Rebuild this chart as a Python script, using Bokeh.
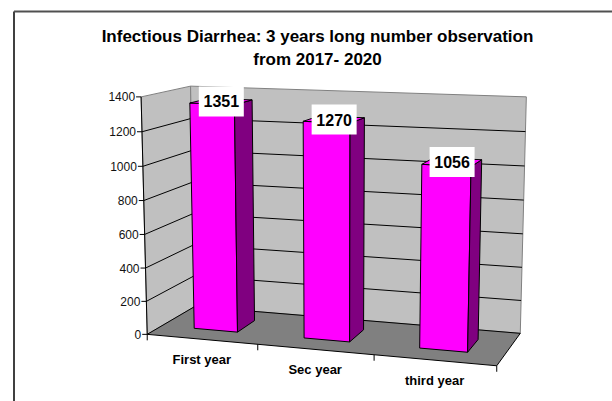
import numpy as np
from bokeh.plotting import figure
from bokeh.models import Range1d
from bokeh.core.properties import value
from bokeh.embed import file_html
from bokeh.resources import INLINE

# ---- data ----
categories = ["First year", "Sec year", "third year"]
cases = [1351, 1270, 1056]
y_ticks = [0, 200, 400, 600, 800, 1000, 1200, 1400]
y_max = 1400
title_lines = ["Infectious Diarrhea: 3 years long number observation", "from 2017- 2020"]

# ---- 3D projection calibration (layout of the chart box) ----
calib_world = [(0, 0, 0), (0, 1400, 0), (0, 0, 1), (0, 1400, 1), (3, 0, 1), (3, 1400, 1),
               (3, 0, 0), (1, 0, 0), (2, 0, 0),
               (0, 200, 0), (0, 400, 0), (0, 600, 0), (0, 800, 0), (0, 1000, 0), (0, 1200, 0)]
calib_screen = [(147, 334), (140.5, 96), (194, 306), (190, 86), (520, 332.3), (526, 96.5),
                (496, 365), (257.3, 344.3), (373.3, 355),
                (146.1, 300.7), (145.1, 267.7), (144.2, 233.3), (143.3, 199.3), (142.4, 166), (141.4, 131.7)]

ncat = len(categories)
Wn = np.array(calib_world, float) / np.array([ncat, y_max, 1.0])
Sn = (np.array(calib_screen, float) - [306.0, 200.0]) / 200.0
rows = []
for (x, y, z), (u, v) in zip(Wn, Sn):
    X = [x, y, z, 1.0]
    rows.append(X + [0, 0, 0, 0] + [-u * c for c in X])
    rows.append([0, 0, 0, 0] + X + [-v * c for c in X])
_, _, Vt = np.linalg.svd(np.array(rows))
P = Vt[-1].reshape(3, 4)


def proj(c, v, d):
    a, b, w = P @ np.array([c / ncat, v / y_max, d, 1.0])
    return float(a / w * 200 + 306), float(b / w * 200 + 200)


def poly(pts):
    q = [proj(*t) for t in pts]
    return [t[0] for t in q], [t[1] for t in q]


p = figure(width=612, height=401, x_range=Range1d(0, 612), y_range=Range1d(401, 0),
           min_border=0, toolbar_location=None, output_backend="svg")
p.axis.visible = False
p.grid.visible = False
p.outline_line_color = None
p.background_fill_color = "white"

FONT = value("Liberation Sans")

# outer frame
p.line([13.5, 13.5], [401, 11], line_color="black", line_width=1.5)
p.line([13.5, 612], [11, 11], line_color="#505050", line_width=1.8)

# title
p.text([317, 317], [35.5, 58.5], text=title_lines, text_font=FONT, text_font_style="bold",
       text_font_size="17px", text_align="center", text_baseline="middle", text_color="black")

# walls
wx, wy = poly([(0, 0, 0), (0, y_max, 0), (0, y_max, 1), (0, 0, 1)])
p.patch(wx, wy, fill_color="#C0C0C0", line_color="#808080", line_width=1)
bx, by = poly([(0, 0, 1), (0, y_max, 1), (ncat, y_max, 1), (ncat, 0, 1)])
p.patch(bx, by, fill_color="#C0C0C0", line_color="#808080", line_width=1)

# gridlines
gxs, gys = [], []
for t in y_ticks[1:-1]:
    xs, ys = poly([(0, t, 0), (0, t, 1), (ncat, t, 1)])
    gxs.append(xs)
    gys.append(ys)
p.multi_line(gxs, gys, line_color="black", line_width=1)

# floor
fx, fy = poly([(0, 0, 0), (ncat, 0, 0), (ncat, 0, 1), (0, 0, 1)])
p.patch(fx, fy, fill_color="#808080", line_color="black", line_width=1)

# value axis line, ticks, labels
ax, ay = poly([(0, 0, 0), (0, y_max, 0)])
p.line(ax, ay, line_color="black", line_width=1)
tx, ty, lx, ly, lt = [], [], [], [], []
for t in y_ticks:
    x0, y0 = proj(0, t, 0)
    tx.append([x0 - 5, x0])
    ty.append([y0, y0])
    lx.append(x0 - 6)
    ly.append(y0)
    lt.append(str(t))
p.multi_line(tx, ty, line_color="black", line_width=1)
p.text(lx, ly, text=lt, text_font=FONT, text_font_size="12px", text_align="right",
       text_baseline="middle", text_color="#111111")

# category ticks
cx, cy = [], []
for i in range(ncat + 1):
    x0, y0 = proj(i, 0, 0)
    cx.append([x0, x0])
    cy.append([y0, y0 + 6])
p.multi_line(cx, cy, line_color="black", line_width=1)

# bars
hw, z0, z1 = 0.2, 0.3, 0.7
for i, v in enumerate(cases):
    c0, c1 = i + 0.5 - hw, i + 0.5 + hw
    xs, ys = poly([(c0, 0, z0), (c1, 0, z0), (c1, v, z0), (c0, v, z0)])
    p.patch(xs, ys, fill_color="#FF00FF", line_color="black", line_width=1)
    xs, ys = poly([(c1, 0, z0), (c1, 0, z1), (c1, v, z1), (c1, v, z0)])
    p.patch(xs, ys, fill_color="#800080", line_color="black", line_width=1)
    xs, ys = poly([(c0, v, z0), (c1, v, z0), (c1, v, z1), (c0, v, z1)])
    p.patch(xs, ys, fill_color="#FF00FF", line_color="black", line_width=1)

# value labels
vx, vy = [], []
for i, v in enumerate(cases):
    x0, y0 = proj(i + 0.5, v, 0.5)
    vx.append(x0)
    vy.append(y0)
p.rect(vx, vy, width=45, height=30, width_units="screen", height_units="screen",
       fill_color="white", line_color=None)
p.text(vx, vy, text=[str(v) for v in cases], text_font=FONT, text_font_style="bold",
       text_font_size="16px", text_align="center", text_baseline="middle", text_color="black")

# category labels
kx, ky = [], []
for i in range(ncat):
    x0, y0 = proj(i + 0.5, 0, 0)
    kx.append(x0)
    ky.append(y0 + 20)
p.text(kx, ky, text=categories, text_font=FONT, text_font_style="bold",
       text_font_size="13px", text_align="center", text_baseline="middle", text_color="black")

open("out.html", "w").write(file_html(p, INLINE))
